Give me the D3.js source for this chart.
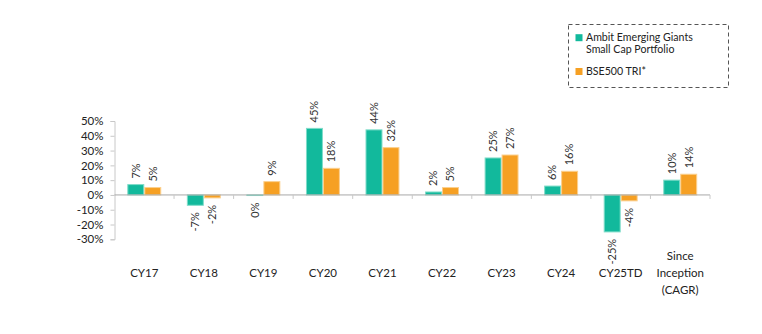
<!DOCTYPE html>
<html>
<head>
<meta charset="utf-8">
<script src="https://cdn.jsdelivr.net/npm/d3@7/dist/d3.min.js"></script>
<style>
  html, body { margin: 0; padding: 0; background: #fff; }
  svg { display: block; font-family: Lato, "Open Sans", sans-serif; }
</style>
</head>
<body>
<svg id="chart" width="762" height="334"></svg>
<script>
// Calendar-year returns, portfolio vs benchmark (%)
const categories = ["CY17", "CY18", "CY19", "CY20", "CY21", "CY22", "CY23", "CY24", "CY25TD", "Since Inception (CAGR)"];
const seriesNames = ["Ambit Emerging Giants Small Cap Portfolio", "BSE500 TRI*"];
const portfolioValues = [7, -7, -0.4, 45, 44, 2, 25, 6, -25, 10];
const benchmarkValues = [5, -2, 9, 18, 32, 5, 27, 16, -4, 14];
const yTicks = [50, 40, 30, 20, 10, 0, -10, -20, -30];
const colors = ["#12b99c", "#f6a023"];
const strokeColors = ["#7fdcc9", "#fbd08f"];

const series = [portfolioValues, benchmarkValues];
const rows = categories.map((c, i) => ({
  cat: c,
  vals: series.map((s, k) => ({ k, v: s[i] }))
}));

const svg = d3.select("#chart");

const x0 = d3.scaleBand().domain(categories).range([114.5, 710]).padding(0);
const groupW = x0.bandwidth() * 0.57;
const x1 = d3.scaleBand().domain([0, 1]).range([0, groupW]).padding(0);
const y = d3.scaleLinear().domain([-30, 50]).range([239.3, 121]);

const fmt = v => Math.round(v) + "%";

// y axis
const yAxis = svg.append("g")
  .attr("transform", `translate(${x0.range()[0]},0)`)
  .call(d3.axisLeft(y).tickValues(yTicks).tickSize(4).tickPadding(7).tickFormat(d => d + "%"));
yAxis.select(".domain").attr("stroke", "#c8c8c8");
yAxis.selectAll(".tick line").attr("stroke", "#c8c8c8");
yAxis.selectAll(".tick text")
  .attr("fill", "#222").style("font-size", "11.5px").style("font-family", "Lato, sans-serif");

// bars
const groups = svg.append("g").selectAll("g").data(rows).join("g")
  .attr("transform", d => `translate(${x0(d.cat) + (x0.bandwidth() - groupW) / 2},0)`);

groups.selectAll("rect").data(d => d.vals).join("rect")
  .attr("x", d => x1(d.k) + 0.5)
  .attr("width", x1.bandwidth() - 1)
  .attr("y", d => y(Math.max(0, d.v)))
  .attr("height", d => Math.abs(y(d.v) - y(0)))
  .attr("fill", d => colors[d.k])
  .attr("stroke", d => strokeColors[d.k])
  .attr("stroke-width", 1);

// value labels, rotated
groups.selectAll("text").data(d => d.vals).join("text")
  .attr("transform", d => {
    const cx = x1(d.k) + x1.bandwidth() / 2;
    const cy = d.v >= 0 ? y(d.v) - 6 : y(d.v) + 7;
    return `translate(${cx},${cy}) rotate(-90)`;
  })
  .attr("text-anchor", d => d.v >= 0 ? "start" : "end")
  .attr("dy", "0.35em")
  .attr("fill", "#333")
  .style("font-size", "11px")
  .text(d => fmt(d.v));

// x axis along zero
const xAxis = svg.append("g")
  .attr("transform", `translate(0,${y(0)})`);
xAxis.append("line")
  .attr("x1", x0.range()[0]).attr("x2", x0.range()[1])
  .attr("stroke", "#a8a8a8");
xAxis.selectAll("line.tk").data(categories).join("line")
  .attr("class", "tk")
  .attr("x1", d => x0(d) + x0.bandwidth()).attr("x2", d => x0(d) + x0.bandwidth())
  .attr("y1", 0).attr("y2", 4)
  .attr("stroke", "#c8c8c8");

// category labels
const catLines = c => c === "Since Inception (CAGR)" ? ["Since", "Inception", "(CAGR)"] : [c];
svg.append("g").selectAll("text").data(categories).join("text")
  .attr("x", d => x0(d) + x0.bandwidth() / 2)
  .attr("y", 277)
  .attr("text-anchor", "middle")
  .attr("fill", "#222")
  .style("font-size", "11.5px")
  .each(function(d) {
    const lines = catLines(d);
    const off = lines.length > 1 ? -1 : 0;
    d3.select(this).selectAll("tspan").data(lines).join("tspan")
      .attr("x", x0(d) + x0.bandwidth() / 2)
      .attr("dy", (l, i) => i === 0 ? (off * 16.7) : 16.7)
      .text(l => l);
  });

// legend
const legend = svg.append("g");
legend.append("rect")
  .attr("x", 568.5).attr("y", 24.5).attr("width", 160).attr("height", 63)
  .attr("fill", "none").attr("stroke", "#555").attr("stroke-dasharray", "4,3");
const legendItems = [
  { lines: ["Ambit Emerging Giants", "Small Cap Portfolio"], y: 37.7 },
  { lines: ["BSE500 TRI*"], y: 71.5 }
];
legendItems.forEach((it, k) => {
  legend.append("rect")
    .attr("x", 575.5).attr("y", it.y - 3.5).attr("width", 7).attr("height", 7)
    .attr("fill", colors[k]);
  const t = legend.append("text")
    .attr("x", 586).attr("y", it.y)
    .attr("fill", "#222").style("font-size", "10.6px");
  t.selectAll("tspan").data(it.lines).join("tspan")
    .attr("x", 586).attr("dy", (l, i) => i === 0 ? "0.35em" : 11.6)
    .text(l => l);
});
</script>
</body>
</html>
